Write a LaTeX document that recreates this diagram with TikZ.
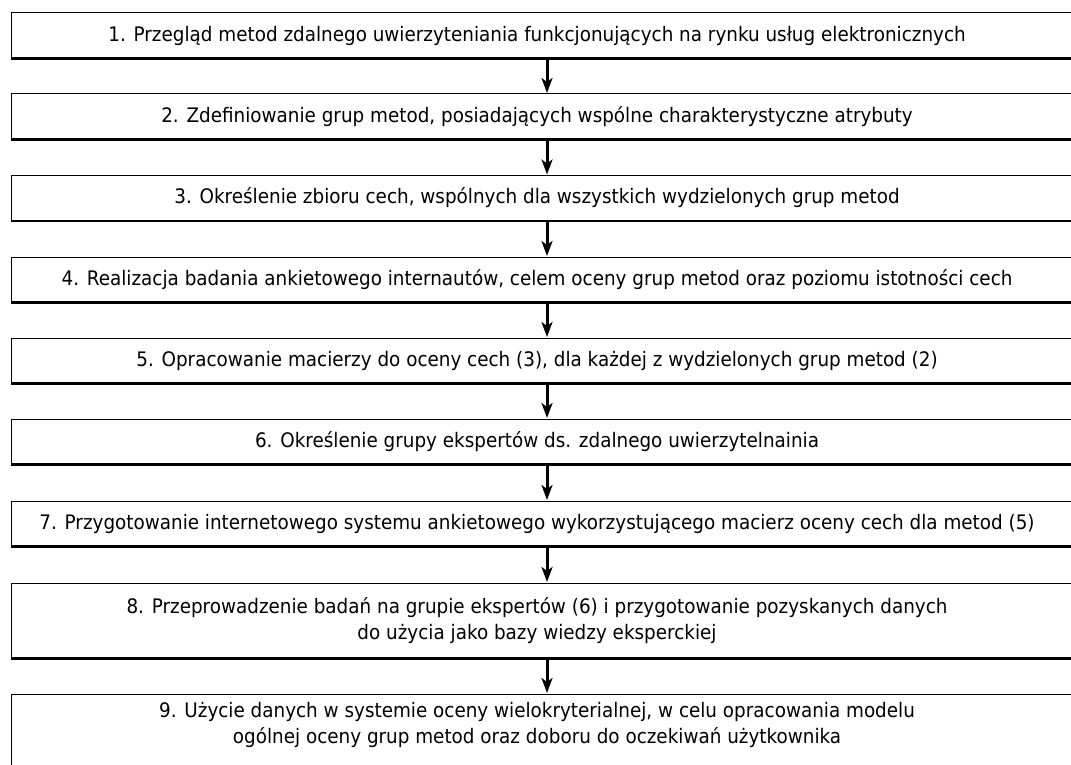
\documentclass[tikz,border=0pt]{standalone}
\usepackage{fontspec}
\setmainfont[FakeStretch=0.918]{DejaVu Sans}
\usetikzlibrary{arrows.meta}
\tikzset{
  stepbox/.style={draw=black, line width=1pt, rectangle, inner sep=0pt, minimum width=1072pt},
  bottomline/.style={draw=black, line width=2.2pt},
  steptext/.style={align=center, inner sep=0pt, font=\fontsize{20}{26}\selectfont, text=black},
  flow/.style={draw=black, line width=3pt, -{Stealth[length=15pt, width=11pt, inset=4pt]}, shorten >=0.5pt}
}
\begin{document}
\begin{tikzpicture}[x=1pt,y=-1pt]
\useasboundingbox (0,0) rectangle (1071,765);
\clip (0,0) rectangle (1071,765);
\fill[white] (0,0) rectangle (1071,765);
\foreach \i/\yc/\h/\ty/\txt in {
  1/35.5/45/35.5/{1. Przegląd metod zdalnego uwierzyteniania funkcjonujących na rynku usług elektronicznych},
  2/116.5/45/116.5/{2. Zdefiniowanie grup metod, posiadających wspólne charakterystyczne atrybuty},
  3/198/45/198/{3. Określenie zbioru cech, wspólnych dla wszystkich wydzielonych grup metod},
  4/279.5/45/279.5/{4. Realizacja badania ankietowego internautów, celem oceny grup metod oraz poziomu istotności cech},
  5/360.5/45/360.5/{5. Opracowanie macierzy do oceny cech (3), dla każdej z wydzielonych grup metod (2)},
  6/441.5/45/441.5/{6. Określenie grupy ekspertów ds. zdalnego uwierzytelnainia},
  7/523.5/45/523.5/{7. Przygotowanie internetowego systemu ankietowego wykorzystującego macierz oceny cech dla metod (5)},
  8/620.5/75/621/{8. Przeprowadzenie badań na grupie ekspertów (6) i przygotowanie pozyskanych danych\\do użycia jako bazy wiedzy eksperckiej},
  9/737/86/725/{9. Użycie danych w systemie oceny wielokryterialnej, w celu opracowania modelu\\ogólnej oceny grup metod oraz doboru do oczekiwań użytkownika}} {
  \node[stepbox, minimum height=\h pt] (b\i) at (547,\yc) {};
  \draw[bottomline] (b\i.south west) -- (b\i.south east);
  \node[steptext] (t\i) at (537,\ty) {\txt};
}
\foreach \i [evaluate=\i as \j using int(\i+1)] in {1,...,8}
  \draw[flow] (b\i) -- (b\j);
\end{tikzpicture}
\end{document}
